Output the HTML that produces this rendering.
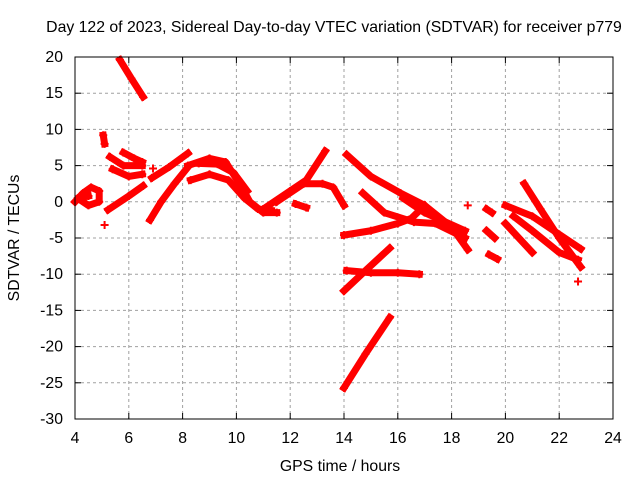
<!DOCTYPE html>
<html><head><meta charset="utf-8"><style>
html,body{margin:0;padding:0;background:#fff;}
svg text{font-family:"Liberation Sans",sans-serif;font-size:15.8px;fill:#000;}
</style></head><body>
<svg id="chart" width="640" height="480">
<text x="334" y="32" text-anchor="middle">Day 122 of 2023, Sidereal Day-to-day VTEC variation (SDTVAR) for receiver p779</text>
<text x="340" y="471" text-anchor="middle">GPS time / hours</text>
<text transform="translate(19,238) rotate(-90)" text-anchor="middle">SDTVAR / TECUs</text>
<g id="grid"></g><g id="ticks"></g><g id="marks"></g>
<rect x="75" y="57" width="538" height="362" fill="none" stroke="#000" stroke-width="1"/>
</svg>
<script>
const xTicks=[4,6,8,10,12,14,16,18,20,22,24];
const yTicks=[20,15,10,5,0,-5,-10,-15,-20,-25,-30];
const tracks=[
[[4.0,0],[4.3,1.2],[4.6,2],[4.9,1.5],[4.9,0],[4.5,-0.5],[4.1,0.5],[4.5,0.8]],
[[5.05,9.2],[5.1,8]],
[[5.1,-3.2]],
[[5.67,19.6],[6.1,17],[6.53,14.5]],
[[5.3,6.2],[5.8,5],[6.5,5]],
[[5.4,4.5],[6.0,3.5],[6.5,3.8]],
[[5.8,6.8],[6.2,6],[6.5,5.5]],
[[5.23,-1.1],[6.0,0.8],[6.53,2.2]],
[[6.9,4.6]],
[[6.79,-2.5],[7.2,0],[7.7,2.5],[8.2,4.8]],
[[6.86,3.3],[7.5,4.8],[8.2,6.7]],
[[8.2,5],[9,6],[9.6,5.5],[10.2,2],[10.5,0],[11,-1.5],[11.5,-1.5]],
[[8.3,3],[9,3.8],[9.7,3],[10.3,0.5],[10.8,-1],[11.3,-1.2]],
[[8.6,5.3],[9.3,5.2],[9.9,4],[10.4,1.5]],
[[11,-1],[12,1.5],[12.6,3],[13.3,7]],
[[11.5,0],[12.5,2.5],[13.2,2.5],[13.6,2],[14,-0.5]],
[[12.2,-0.3],[12.6,-0.8]],
[[14.1,6.5],[15,3.5],[16.1,1.2],[17,-0.5],[18,-3.5],[18.6,-6.6]],
[[14.7,1.2],[15.5,-1.5],[16.6,-2.8],[17.4,-3],[18.5,-5]],
[[16.2,0.5],[17,-1.5],[18.5,-4]],
[[14,-4.6],[15,-4],[16,-3],[16.5,-2.3],[17,-0.5]],
[[14,-12.3],[14.8,-9.5],[15.7,-6.4]],
[[14.1,-9.5],[15,-9.8],[16,-9.8],[16.8,-10]],
[[14,-25.7],[14.8,-21],[15.7,-16]],
[[18.6,-0.5]],
[[19.3,-1],[19.5,-1.5]],
[[19.3,-4],[19.6,-5]],
[[19.4,-7.3],[19.7,-7.9]],
[[20,-0.5],[21,-2],[22,-4.5],[22.8,-6.5]],
[[20.7,2.5],[21.3,-1],[22,-5],[22.8,-9]],
[[20,-3],[20.5,-5],[21,-7]],
[[20.3,-2],[21,-4],[22,-7],[22.7,-8]],
[[22.7,-11]]
];
const X=h=>75+(h-4)*26.9, Y=v=>57+(20-v)*7.24;
const NS="http://www.w3.org/2000/svg";
const g=document.getElementById('grid'),t=document.getElementById('ticks'),m=document.getElementById('marks');
function el(p,tag,a){const e=document.createElementNS(NS,tag);for(const k in a)e.setAttribute(k,a[k]);p.appendChild(e);return e;}
xTicks.forEach(v=>{const x=X(v);
 if(v>4&&v<24){const l=el(g,'line',{x1:x,x2:x,y1:57,y2:419,stroke:'#a0a0a0','stroke-dasharray':'3,3'});
 
 }
 el(t,'line',{x1:x,x2:x,y1:419,y2:413,stroke:'#000'});el(t,'line',{x1:x,x2:x,y1:57,y2:63,stroke:'#000'});
 const tx=el(t,'text',{x:x,y:443,'text-anchor':'middle'});tx.textContent=v;
 
 });
yTicks.forEach(v=>{const y=Y(v);
 if(v<20&&v>-30){const l=el(g,'line',{x1:75,x2:613,y1:y,y2:y,stroke:'#a0a0a0','stroke-dasharray':'3,3'});
 
 }
 el(t,'line',{x1:75,x2:81,y1:y,y2:y,stroke:'#000'});el(t,'line',{x1:613,x2:607,y1:y,y2:y,stroke:'#000'});
 const tx=el(t,'text',{x:63,y:y+5,'text-anchor':'end'});tx.textContent=v;
 
 });
tracks.forEach(tr=>{
 if(tr.length>1){const p=el(m,'polyline',{points:tr.map(q=>X(q[0])+','+Y(q[1])).join(' '),fill:'none',stroke:'#f00','stroke-width':7,'stroke-linejoin':'round','stroke-linecap':'square'});
 
 }
 tr.forEach(q=>{const x=X(q[0]),y=Y(q[1]);
  const pl=el(m,'path',{d:`M${x-4},${y}H${x+4}M${x},${y-4}V${y+4}`,stroke:'#f00','stroke-width':2});
  
  });
});
</script>
</body></html>
